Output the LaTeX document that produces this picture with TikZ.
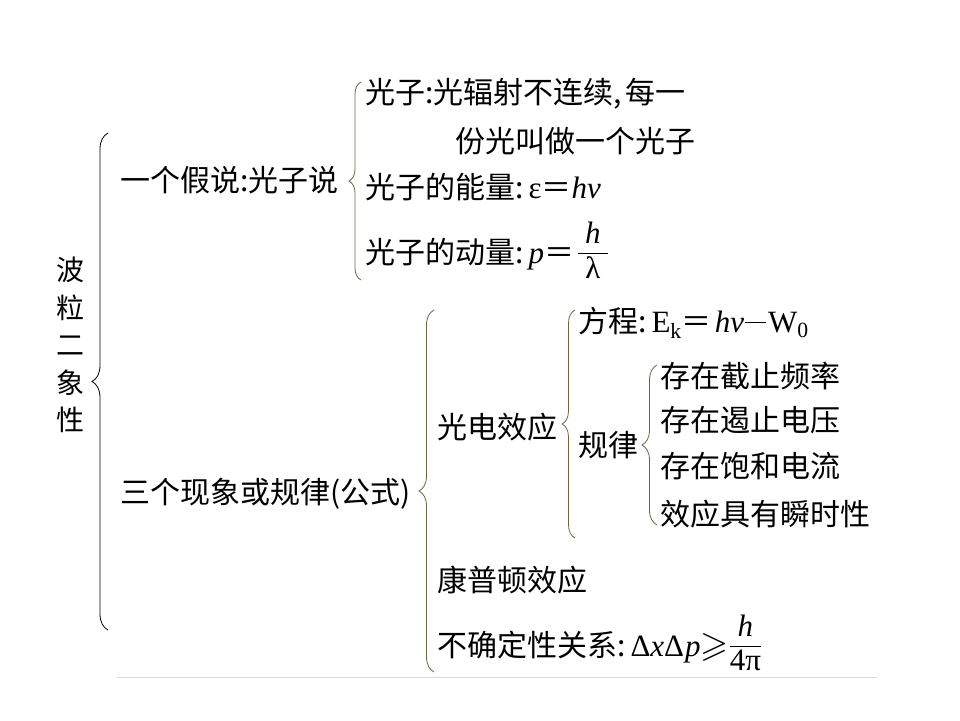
\documentclass[tikz,border=0pt]{standalone}
\usepackage{amsmath}
\usepackage{amssymb}
\usepackage{fontspec}
\setmainfont{Liberation Serif}
\newfontfamily\song{Noto Sans CJK SC}
\newfontfamily\tnr{Liberation Serif}
\usetikzlibrary{decorations.pathreplacing}
\definecolor{braceolive}{RGB}{115,100,65}
\newcommand{\myfrac}[2]{$\genfrac{}{}{0.9pt}{0}{\hbox{#1}}{\hbox{#2}}$}
\newcommand{\lat}{\tnr\fontsize{31}{36}\selectfont}
\begin{document}
\begin{tikzpicture}[x=1pt,y=-1pt,
  txt/.style={anchor=base west, inner sep=0pt, font=\song\fontsize{30}{36}\selectfont},
  brc/.style={decorate, decoration={brace, amplitude=#1, aspect=0.5}, line width=0.8pt},
  outerbrace/.style={brc=16pt, draw=black},
  innerbrace/.style={brc=#1, draw=braceolive}
 ]
\path[use as bounding box] (0,0) rectangle (960,720);
\fill[white] (0,0) rectangle (960,720);

% vertical title
\node[anchor=center, align=center, inner sep=0pt, font=\song\fontsize{28}{37.5}\selectfont] (title) at (70,345) {波\\粒\\二\\象\\性};

% level 1
\node[txt] (hyp) at (120,191) {一个假说:光子说};
\node[txt] (three) at (120,503) {三个现象或规律(公式)};

% photon hypothesis
\node[txt] (ph1) at (365,103) {光子:光辐射不连续,\kern4pt每一};
\node[txt] (ph2) at (455,152) {份光叫做一个光子};
\node[txt] (ph3) at (365,198) {光子的能量:\,{\lat ε}＝{\lat\textit{hν}}};
\node[txt] (ph4) at (365,263) {光子的动量:\,{\lat\textit{p}}＝\kern3pt\raisebox{3pt}{\myfrac{\lat\kern7pt\textit{h}\kern7pt}{\lat λ}}};

% three phenomena
\node[txt] (pe) at (437,438) {光电效应};
\node[txt] (cp) at (437,591) {康普顿效应};
\node[txt] (un) at (437,656) {不确定性关系:\,{\lat Δ\textit{x}Δ\kern1pt\textit{p}}{\fontsize{36}{36}\selectfont$\geqslant$}\raisebox{3pt}{\myfrac{\lat\kern2pt\textit{h}\kern2pt}{\lat 4π}}};

% photoelectric effect
\node[txt] (eq) at (578,332) {方程:\,{\lat E\textsubscript{k}}＝\kern3pt{\lat\textit{hν}\kern1pt\rule[9pt]{21pt}{1pt}\kern2pt W\textsubscript{0}}};
\node[txt] (law) at (578,456) {规律};
\node[txt] (l1) at (660,387) {存在截止频率};
\node[txt] (l2) at (660,431) {存在遏止电压};
\node[txt] (l3) at (660,477) {存在饱和电流};
\node[txt] (l4) at (660,525) {效应具有瞬时性};

% braces
\coordinate (b0b) at (108,630); \coordinate (b0t) at (108,133);
\coordinate (b1b) at (361,280); \coordinate (b1t) at (361,82);
\coordinate (b2b) at (434,672); \coordinate (b2t) at (434,310);
\coordinate (b3b) at (575,538); \coordinate (b3t) at (575,310);
\coordinate (b4b) at (657,525); \coordinate (b4t) at (657,365);
\draw[outerbrace] (b0b) -- (b0t);
\draw[innerbrace=12pt] (b1b) -- (b1t);
\draw[innerbrace=15pt] (b2b) -- (b2t);
\draw[innerbrace=13pt] (b3b) -- (b3t);
\draw[innerbrace=15pt] (b4b) -- (b4t);

% bottom rule
\coordinate (rl) at (117,677); \coordinate (rr) at (877,677);
\draw[black!15, line width=1pt] (rl) -- (rr);
\end{tikzpicture}
\end{document}
